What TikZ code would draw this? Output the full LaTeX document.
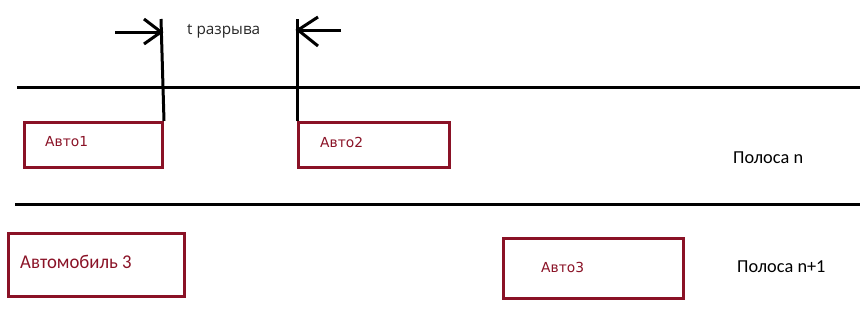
\documentclass[tikz,border=0pt]{standalone}
\usepackage{fontspec}
\setmainfont{Carlito}
\newfontfamily\autofont{DejaVu Sans}
\newfontfamily\narrowfont[FakeStretch=0.96]{Carlito}
\newfontfamily\gapfont{Open Sans}
\begin{document}
\begin{tikzpicture}[x=1pt,y=-1pt,
  car/.style={draw=carred,line width=3pt,inner sep=0pt,anchor=north west},
  carlabel/.style={text=carred,anchor=west,inner sep=0pt,font=\autofont\fontsize{13.8}{16}\selectfont},
  lanelabel/.style={text=black,anchor=west,inner sep=0pt,font=\fontsize{18.3}{21}\selectfont},
  road/.style={line width=3pt,black},
  gapline/.style={line width=3pt,black}]
\definecolor{carred}{RGB}{138,18,38}
\useasboundingbox (0,0) rectangle (860,325);
% road lines
\coordinate (r1a) at (17,87);
\coordinate (r1b) at (860,87);
\coordinate (r2a) at (15,204);
\coordinate (r2b) at (860,204);
\draw[road] (r1a) -- (r1b);
\draw[road] (r2a) -- (r2b);
% cars
\node[car,minimum width=138pt,minimum height=45pt] (c1) at (23,121) {};
\node[car,minimum width=151pt,minimum height=45pt] (c2) at (297,121) {};
\node[car,minimum width=176pt,minimum height=63pt] (c3) at (7,232) {};
\node[car,minimum width=180pt,minimum height=60pt] (c4) at (502,237) {};
\node[carlabel] (l1) at (45,142) {Авто1};
\node[carlabel] (l2) at (320,142) {Авто2};
\node[carlabel,font=\narrowfont\fontsize{19.5}{22}\selectfont] (l3) at (20,262) {Автомобиль 3};
\node[carlabel] (l4) at (541,267) {Авто3};
\node[lanelabel] (p1) at (733,158) {Полоса n};
\node[lanelabel] (p2) at (737,267) {Полоса n+1};
% gap markers
\coordinate (v1) at (161,19);
\coordinate (v2) at (297,19);
\draw[gapline] (c1.north east) -- (v1);
\draw[gapline] (c2.north west) -- (v2);
\coordinate (a1) at (115,32);
\coordinate (h1) at (161,32);
\coordinate (h1t) at (144,19);
\coordinate (h1b) at (144,44);
\draw[gapline] (a1) -- (h1);
\draw[gapline] (h1t) -- (h1) -- (h1b);
\coordinate (a2) at (341,30);
\coordinate (h2) at (298,30);
\coordinate (h2t) at (318,17);
\coordinate (h2b) at (318,46);
\draw[gapline] (a2) -- (h2);
\draw[gapline] (h2t) -- (h2) -- (h2b);
\node[lanelabel,text=black!85,font=\gapfont\fontsize{15.3}{18}\selectfont] (t) at (187,31) {t разрыва};
\end{tikzpicture}
\end{document}
